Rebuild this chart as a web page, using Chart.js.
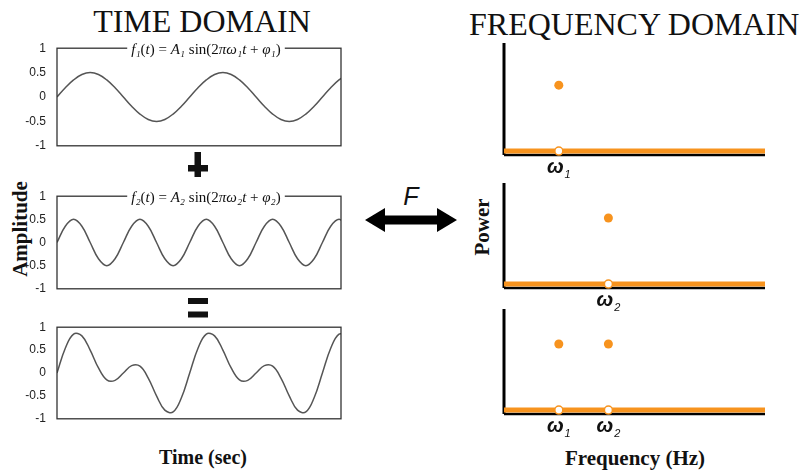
<!DOCTYPE html>
<html>
<head>
<meta charset="utf-8">
<script src="https://cdn.jsdelivr.net/npm/chart.js@4.4.0/dist/chart.umd.min.js"></script>
<style>
body { margin: 0; background: #fff; }
#page { position: relative; width: 806px; height: 472px; overflow: hidden; font-family: "Liberation Serif", serif; color: #111; }
canvas, .txt, svg { position: absolute; }
.txt { white-space: nowrap; line-height: 1; }
.head { font-size: 32px; }
.lab { font-weight: bold; font-size: 21px; transform: translate(-50%, -50%); }
.rot { transform: translate(-50%, -50%) rotate(-90deg); }
</style>
</head>
<body>
<div id="page">
  <div class="txt head" style="left:202px; top:5px; transform: translateX(-50%);">TIME DOMAIN</div>
  <div class="txt head" style="left:469px; top:8px;">FREQUENCY DOMAIN</div>
  <div class="txt lab rot" style="left:20px; top:229px;">Amplitude</div>
  <div class="txt lab" style="left:203px; top:457px; font-size:20px;">Time (sec)</div>
  <div class="txt lab rot" style="left:482px; top:227px;">Power</div>
  <div class="txt lab" style="left:635px; top:458px;">Frequency (Hz)</div>
  <div class="txt" style="left:411px; top:196px; transform: translate(-50%, -50%); font-family:'Liberation Sans', sans-serif; font-style:italic; font-size:25px;">F</div>

  <svg width="806" height="472" style="left:0; top:0;">
    <rect x="188" y="165" width="20" height="6.5" fill="#111"/>
    <rect x="194.5" y="152" width="6.5" height="25" fill="#111"/>
    <rect x="188" y="298" width="20" height="6" fill="#111"/>
    <rect x="188" y="311.5" width="20" height="6" fill="#111"/>
    <polygon points="365,220 385,208 385,215.5 437,215.5 437,208 457,220 437,232 437,224.5 385,224.5 385,232" fill="#000"/>
  </svg>

  <canvas id="wave1" width="345" height="118" style="left:0; top:38px;"></canvas>
  <canvas id="wave2" width="345" height="113" style="left:0; top:186px;"></canvas>
  <canvas id="wave3" width="345" height="112" style="left:0; top:317px;"></canvas>

  <canvas id="spec1" width="300" height="148" style="left:480px; top:33px;"></canvas>
  <canvas id="spec2" width="300" height="141" style="left:480px; top:173px;"></canvas>
  <canvas id="spec3" width="300" height="141" style="left:480px; top:299px;"></canvas>
</div>
<script>
// valores
const timeSec = [0, 0.0625, 0.125, 0.1875, 0.25, 0.3125, 0.375, 0.4375, 0.5, 0.5625, 0.625, 0.6875,
    0.75, 0.8125, 0.875, 0.9375, 1, 1.0625, 1.125, 1.1875, 1.25, 1.3125, 1.375, 1.4375,
    1.5, 1.5625, 1.625, 1.6875, 1.75, 1.8125, 1.875, 1.9375, 2, 2.0625, 2.125, 2.1875];
const wave1 = [0, 0.19, 0.35, 0.46, 0.5, 0.46, 0.35, 0.19, 0, -0.19, -0.35, -0.46,
    -0.5, -0.46, -0.35, -0.19, 0, 0.19, 0.35, 0.46, 0.5, 0.46, 0.35, 0.19,
    0, -0.19, -0.35, -0.46, -0.5, -0.46, -0.35, -0.19, 0, 0.19, 0.35, 0.46];
const wave2 = [0, 0.35, 0.5, 0.35, 0, -0.35, -0.5, -0.35, 0, 0.35, 0.5, 0.35,
    0, -0.35, -0.5, -0.35, 0, 0.35, 0.5, 0.35, 0, -0.35, -0.5, -0.35,
    0, 0.35, 0.5, 0.35, 0, -0.35, -0.5, -0.35, 0, 0.35, 0.5, 0.35];
const waveSum = [0, 0.54, 0.85, 0.81, 0.5, 0.11, -0.15, -0.16, 0, 0.16, 0.15, -0.11,
    -0.5, -0.81, -0.85, -0.54, 0, 0.54, 0.85, 0.81, 0.5, 0.11, -0.15, -0.16,
    0, 0.16, 0.15, -0.11, -0.5, -0.81, -0.85, -0.54, 0, 0.54, 0.85, 0.81];
const ampTicks = [-1, -0.5, 0, 0.5, 1];
// títulos: [texto, itálico]
const title1 = [['f\u2081', 1], ['(', 0], ['t', 1], [') = ', 0], ['A\u2081', 1], [' sin(2', 0], ['\u03c0\u03c9\u2081t', 1], [' + ', 0], ['\u03c6\u2081', 1], [')', 0]];
const title2 = [['f\u2082', 1], ['(', 0], ['t', 1], [') = ', 0], ['A\u2082', 1], [' sin(2', 0], ['\u03c0\u03c9\u2082t', 1], [' + ', 0], ['\u03c6\u2082', 1], [')', 0]];

const freqValues = [2.1, 4.0];
const freqSubs = ['1', '2'];
const power1 = [1.0, 0];
const power2 = [0, 1.0];
const power3 = [1.0, 1.0];

const orange = '#f7931e';

// caixa em volta do gráfico e título sobre a borda
const boxPlugin = {
    id: 'boxTitle',
    afterDraw(chart, args, opts) {
        const a = chart.chartArea;
        const ctx = chart.ctx;
        ctx.save();
        ctx.strokeStyle = '#333';
        ctx.lineWidth = 1.3;
        ctx.strokeRect(a.left, a.top, a.right - a.left, a.bottom - a.top);
        if (opts.parts) {
            const fontOf = it => (it ? 'italic ' : '') + '15px "Liberation Serif", serif';
            let w = 0;
            opts.parts.forEach(p => { ctx.font = fontOf(p[1]); w += ctx.measureText(p[0]).width; });
            const cx = (a.left + a.right) / 2 + 7;
            ctx.fillStyle = '#fff';
            ctx.fillRect(cx - w / 2 - 4, a.top - 8, w + 8, 16);
            ctx.fillStyle = '#111';
            ctx.textAlign = 'left';
            ctx.textBaseline = 'middle';
            let x = cx - w / 2;
            opts.parts.forEach(p => {
                ctx.font = fontOf(p[1]);
                ctx.fillText(p[0], x, a.top + 2);
                x += ctx.measureText(p[0]).width;
            });
        }
        ctx.restore();
    }
};

function waveChart(id, values, parts) {
    return new Chart(document.getElementById(id), {
        type: 'line',
        data: {
            datasets: [{
                data: timeSec.map((t, i) => ({ x: t, y: values[i] })),
                borderColor: '#555',
                borderWidth: 1.5,
                pointRadius: 0,
                tension: 0.4,
                fill: false
            }]
        },
        options: {
            responsive: false,
            animation: false,
            layout: { padding: { top: 10, bottom: 10, left: 0, right: 4 } },
            plugins: { legend: { display: false }, tooltip: { enabled: false }, boxTitle: { parts: parts } },
            scales: {
                x: { type: 'linear', display: false, min: 0, max: 2.14 },
                y: {
                    min: -1,
                    max: 1,
                    afterFit: s => { s.width = 57; },
                    afterBuildTicks: s => { s.ticks = ampTicks.map(v => ({ value: v })); },
                    grid: { display: false },
                    border: { display: false },
                    ticks: {
                        padding: 3,
                        color: '#222',
                        font: { family: '"Liberation Sans Narrow", "Liberation Sans", sans-serif', size: 12 },
                        callback: v => String(v)
                    }
                }
            }
        },
        plugins: [boxPlugin]
    });
}

// eixos pretos e rótulos ω
const specPlugin = {
    id: 'specAxes',
    beforeDatasetsDraw(chart) {
        const a = chart.chartArea;
        const ctx = chart.ctx;
        ctx.save();
        ctx.strokeStyle = '#000';
        ctx.lineWidth = 3;
        ctx.beginPath();
        ctx.moveTo(a.left, a.top);
        ctx.lineTo(a.left, a.bottom - 1);
        ctx.stroke();
        ctx.lineWidth = 2.5;
        ctx.beginPath();
        ctx.moveTo(a.left, a.bottom - 1);
        ctx.lineTo(a.right, a.bottom - 1);
        ctx.stroke();
        ctx.restore();
    },
    afterDraw(chart, args, opts) {
        const ctx = chart.ctx;
        const xs = chart.scales.x;
        const base = chart.chartArea.bottom;
        ctx.save();
        ctx.fillStyle = '#111';
        ctx.textBaseline = 'alphabetic';
        opts.power.forEach((p, i) => {
            if (p <= 0) return;
            const px = xs.getPixelForValue(freqValues[i]);
            ctx.font = 'bold italic 20px "Liberation Sans", sans-serif';
            const w1 = ctx.measureText('\u03c9').width;
            ctx.font = 'italic 11px "Liberation Sans", sans-serif';
            const w2 = ctx.measureText(freqSubs[i]).width;
            const x0 = px - (w1 + w2 + 1) / 2;
            ctx.font = 'bold italic 20px "Liberation Sans", sans-serif';
            ctx.fillText('\u03c9', x0, base + 17);
            ctx.font = 'italic 11px "Liberation Sans", sans-serif';
            ctx.fillText(freqSubs[i], x0 + w1 + 1, base + 22);
        });
        ctx.restore();
    }
};

function spectrumChart(id, power, yMax) {
    const peaks = freqValues.map((f, i) => ({ x: f, y: power[i] })).filter(p => p.y > 0);
    const bases = peaks.map(p => ({ x: p.x, y: 0 }));
    return new Chart(document.getElementById(id), {
        type: 'scatter',
        data: {
            datasets: [
                { data: peaks, pointRadius: 4.5, backgroundColor: orange, borderWidth: 0, order: 1 },
                { data: bases, pointRadius: 4, backgroundColor: '#fff', borderColor: orange, borderWidth: 1.5, order: 1 },
                { data: [{ x: 0, y: 0 }, { x: 10, y: 0 }], showLine: true, borderColor: orange, borderWidth: 5, pointRadius: 0, order: 2 }
            ]
        },
        options: {
            responsive: false,
            animation: false,
            layout: { padding: { top: 10, bottom: 25, left: 24, right: 15 } },
            plugins: { legend: { display: false }, tooltip: { enabled: false }, specAxes: { power: power } },
            scales: {
                x: { type: 'linear', display: false, min: 0, max: 10 },
                y: { display: false, min: -0.075, max: yMax }
            }
        },
        plugins: [specPlugin]
    });
}

waveChart('wave1', wave1, title1);
waveChart('wave2', wave2, title2);
waveChart('wave3', waveSum, null);

spectrumChart('spec1', power1, 1.64);
spectrumChart('spec2', power2, 1.53);
spectrumChart('spec3', power3, 1.53);
</script>
</body>
</html>
